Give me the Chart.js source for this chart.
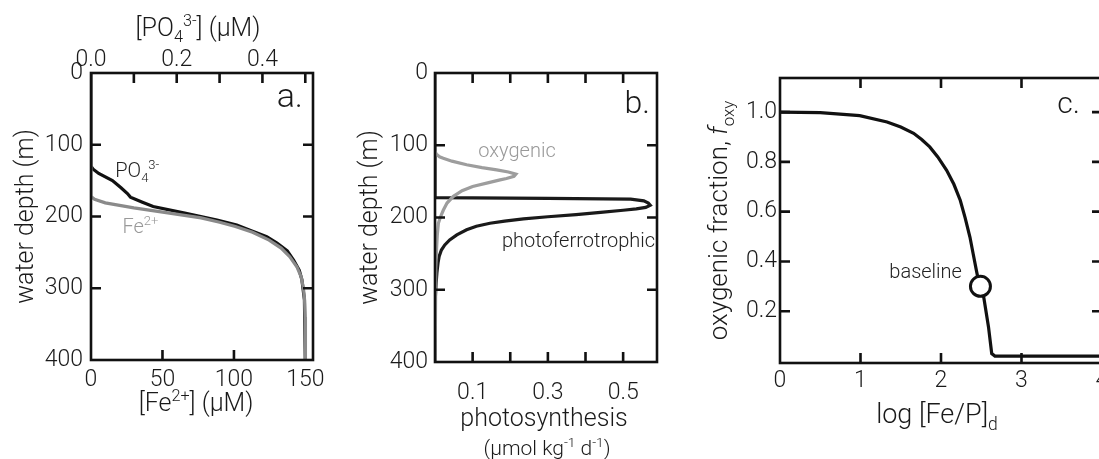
<!DOCTYPE html>
<html>
<head>
<meta charset="utf-8">
<script src="https://cdn.jsdelivr.net/npm/chart.js@4.4.0/dist/chart.umd.min.js"></script>
<style>
  html, body { margin: 0; padding: 0; background: #fff; width: 1099px; height: 459px; overflow: hidden; }
  canvas { position: absolute; top: 0; }
</style>
</head>
<body>
<canvas id="chartA" width="340" height="459" style="left:0"></canvas>
<canvas id="chartB" width="345" height="459" style="left:340px"></canvas>
<canvas id="chartC" width="430" height="459" style="left:685px"></canvas>
<script>
// ---- panel a: dissolved Fe2+ and PO4 profiles
const feDepth = [0, 172, 176, 181, 188, 195, 202, 208, 214, 222, 233, 244, 256, 270, 284, 300, 316, 340, 400];
const feConc  = [0, 0, 2.5, 10, 30, 53.7, 77, 90, 101, 113, 124.6, 133, 139, 144, 147, 148.6, 149.4, 149.8, 150];
const po4Depth = [0, 130, 134, 140, 150, 160, 168, 173, 180, 186, 195, 205, 212, 219, 228, 237, 248, 261, 275, 288, 316, 400];
const po4Conc  = [0, 0, 0.005, 0.018, 0.05, 0.07, 0.085, 0.092, 0.12, 0.145, 0.216, 0.294, 0.34, 0.371, 0.41, 0.434, 0.458, 0.473, 0.486, 0.492, 0.498, 0.5];

// ---- panel b: photosynthesis rates
const oxyDepth = [0, 108, 112, 116, 118, 122, 127, 131, 134, 137, 140, 143, 146, 148, 152, 157, 163, 171, 180, 190, 200, 208, 225, 245, 270, 300, 400];
const oxyRate  = [0, 0, 0.003, 0.012, 0.022, 0.045, 0.084, 0.125, 0.164, 0.195, 0.215, 0.21, 0.19, 0.173, 0.14, 0.10, 0.072, 0.048, 0.032, 0.022, 0.014, 0.009, 0.006, 0.004, 0.002, 0.001, 0];
const ferroDepth = [0, 172.5, 173.5, 174.5, 177, 180, 183, 186, 188, 190, 193, 196, 199, 202, 205, 208, 212, 217, 224, 231, 238, 245, 254, 263, 277, 291, 310, 400];
const ferroRate  = [0, 0, 0.30, 0.52, 0.555, 0.567, 0.572, 0.56, 0.535, 0.50, 0.44, 0.375, 0.30, 0.235, 0.185, 0.146, 0.11, 0.084, 0.058, 0.039, 0.026, 0.017, 0.011, 0.008, 0.005, 0.003, 0.001, 0];

// ---- panel c: oxygenic fraction vs log [Fe/P]d
const logFeP = [0, 0.5, 0.99, 1.33, 1.5, 1.66, 1.76, 1.86, 1.96, 2.07, 2.16, 2.24, 2.30, 2.36, 2.40, 2.44, 2.48, 2.53, 2.59, 2.63, 2.67, 4.0];
const fOxy   = [1.0, 0.998, 0.986, 0.96, 0.94, 0.915, 0.89, 0.86, 0.82, 0.766, 0.71, 0.645, 0.575, 0.497, 0.43, 0.363, 0.30, 0.258, 0.137, 0.03, 0.02, 0.02];
const baselineX = [2.49];
const baselineY = [0.30];

// ---- tick labels and tick marks
const depthTicks = [0, 100, 200, 300, 400];
const feTicks = [0, 50, 100, 150];
const po4Ticks = [0, 0.2, 0.4];
const photoTicks = [0.1, 0.3, 0.5];
const logTicks = [0, 1, 2, 3, 4];
const fTicks = [0.2, 0.4, 0.6, 0.8, 1.0];
const depthMarks = [100, 200, 300];
const feMarks = [50, 100];
const po4Marks = [0.1, 0.2, 0.3, 0.4, 0.5];
const photoMarks = [0.1, 0.2, 0.3, 0.4, 0.5];
const logMarks = [1, 2, 3];
const fMarks = [0.2, 0.4, 0.6, 0.8, 1.0];

const ink = '#111';
const FAMILY = 'Roboto, "Liberation Sans", Helvetica, Arial, sans-serif';
const WEIGHT = 300;
Chart.defaults.font.family = FAMILY;
Chart.defaults.color = '#1a1a1a';

const pts = (xs, ys) => xs.map((x, i) => ({x: x, y: ys[i]}));

function line(data, color, xAxis, width) {
    return {
        data: data, showLine: true, borderColor: color, borderWidth: width || 3.2,
        pointRadius: 0, fill: false, tension: 0, xAxisID: xAxis || 'x', yAxisID: 'y'
    };
}

function axis(pos, min, max, ticks, fmt, pad, size, extra) {
    return Object.assign({
        type: 'linear', position: pos, min: min, max: max,
        grid: {display: false, drawTicks: false},
        border: {display: false},
        afterBuildTicks: s => { s.ticks = ticks.map(v => ({value: v})); },
        afterFit: s => { if (s.isHorizontal()) s.height = size; else s.width = size; },
        ticks: {font: {size: 23, weight: WEIGHT}, color: '#1a1a1a', padding: pad, autoSkip: false, maxRotation: 0, callback: fmt}
    }, extra || {});
}

// text with sub/superscripts; parts = [[text, kind]], kind '', 'sub', 'sup', 'it'
function rich(ctx, parts, x, y, size, align, color, rotate) {
    const fontFor = k => (k === 'it' ? 'italic ' : '') + WEIGHT + ' ' + ((k === 'sub' || k === 'sup') ? size * 0.65 : size) + 'px ' + FAMILY;
    ctx.save();
    ctx.translate(x, y);
    if (rotate) ctx.rotate(rotate);
    let w = 0;
    parts.forEach(p => { ctx.font = fontFor(p[1]); w += ctx.measureText(p[0]).width; });
    let cx = align === 'center' ? -w / 2 : (align === 'right' ? -w : 0);
    ctx.fillStyle = color || '#1a1a1a';
    ctx.textAlign = 'left';
    ctx.textBaseline = 'alphabetic';
    parts.forEach(p => {
        ctx.font = fontFor(p[1]);
        const dy = p[1] === 'sub' ? size * 0.25 : (p[1] === 'sup' ? -size * 0.4 : 0);
        ctx.fillText(p[0], cx, dy);
        cx += ctx.measureText(p[0]).width;
    });
    ctx.restore();
}

// frame box, inward tick marks, titles and labels
function decor(marks, texts) {
    return {
        id: 'decor',
        afterDatasetsDraw(chart) {
            const ctx = chart.ctx, a = chart.chartArea, len = 10;
            ctx.save();
            ctx.strokeStyle = ink;
            ctx.lineWidth = 2.6;
            ctx.strokeRect(a.left, a.top, a.right - a.left, a.bottom - a.top);
            ctx.beginPath();
            marks.forEach(m => {
                const s = chart.scales[m.scale];
                m.values.forEach(v => {
                    const p = s.getPixelForValue(v);
                    m.sides.forEach(side => {
                        if (side === 'left') { ctx.moveTo(a.left, p); ctx.lineTo(a.left + len, p); }
                        if (side === 'right') { ctx.moveTo(a.right, p); ctx.lineTo(a.right - len, p); }
                        if (side === 'top') { ctx.moveTo(p, a.top); ctx.lineTo(p, a.top + len); }
                        if (side === 'bottom') { ctx.moveTo(p, a.bottom); ctx.lineTo(p, a.bottom - len); }
                    });
                });
            });
            ctx.stroke();
            ctx.restore();
        },
        afterDraw(chart) {
            texts.forEach(t => t(chart, chart.ctx, chart.chartArea, chart.scales));
        }
    };
}

const common = {
    responsive: false,
    animation: false,
    events: [],
    plugins: {legend: {display: false}, tooltip: {enabled: false}}
};

// ---------------- panel a
new Chart(document.getElementById('chartA'), {
    type: 'scatter',
    data: {datasets: [
        line(pts(feConc, feDepth), '#8a8a8a', 'x'),
        line(pts(po4Conc, po4Depth), '#111', 'x2')
    ]},
    options: Object.assign({}, common, {
        layout: {padding: {right: 27}},
        scales: {
            x: axis('bottom', 0, 155.3, feTicks, v => String(v), 6, 99),
            x2: axis('top', 0, 0.518, po4Ticks, v => v.toFixed(1), -1, 73),
            y: axis('left', 0, 400, depthTicks, v => String(v), 8, 91, {reverse: true})
        }
    }),
    plugins: [decor([
        {scale: 'y', sides: ['left', 'right'], values: depthMarks},
        {scale: 'x', sides: ['bottom'], values: feMarks},
        {scale: 'x2', sides: ['top'], values: po4Marks}
    ], [
        (c, ctx, a) => rich(ctx, [['[PO', ''], ['4', 'sub'], ['3-', 'sup'], ['] (µM)', '']], 198, 36, 25, 'center'),
        (c, ctx, a) => rich(ctx, [['[Fe', ''], ['2+', 'sup'], ['] (µM)', '']], 196, 411, 25, 'center'),
        (c, ctx, a) => rich(ctx, [['water depth (m)', '']], a.left - 58, (a.top + a.bottom) / 2, 25, 'center', '#1a1a1a', -Math.PI / 2),
        (c, ctx, a) => rich(ctx, [['a.', '']], a.right - 10, a.top + 34, 34, 'right'),
        (c, ctx, a, s) => rich(ctx, [['PO', ''], ['4', 'sub'], ['3-', 'sup']], s.x.getPixelForValue(17), s.y.getPixelForValue(145), 20, 'left', '#222'),
        (c, ctx, a, s) => rich(ctx, [['Fe', ''], ['2+', 'sup']], s.x.getPixelForValue(22), s.y.getPixelForValue(223), 20, 'left', '#999')
    ])]
});

// ---------------- panel b
new Chart(document.getElementById('chartB'), {
    type: 'scatter',
    data: {datasets: [
        line(pts(oxyRate, oxyDepth), '#9d9d9d'),
        line(pts(ferroRate, ferroDepth), '#1a1a1a')
    ]},
    options: Object.assign({}, common, {
        layout: {padding: {right: 28, top: 73}},
        scales: {
            x: axis('bottom', 0, 0.59, photoTicks, v => v.toFixed(1), 17, 97),
            y: axis('left', 0, 400, depthTicks, v => String(v), 7, 95, {reverse: true})
        }
    }),
    plugins: [decor([
        {scale: 'y', sides: ['left', 'right'], values: depthMarks},
        {scale: 'x', sides: ['top', 'bottom'], values: photoMarks}
    ], [
        (c, ctx, a) => rich(ctx, [['water depth (m)', '']], a.left - 58, (a.top + a.bottom) / 2, 25, 'center', '#1a1a1a', -Math.PI / 2),
        (c, ctx, a) => rich(ctx, [['photosynthesis', '']], 204, 426, 25, 'center'),
        (c, ctx, a) => rich(ctx, [['(µmol kg', ''], ['-1', 'sup'], [' d', ''], ['-1', 'sup'], [')', '']], 207, 455, 21, 'center'),
        (c, ctx, a) => rich(ctx, [['b.', '']], a.right - 7, a.top + 40, 32, 'right'),
        (c, ctx, a, s) => rich(ctx, [['oxygenic', '']], s.x.getPixelForValue(0.218), s.y.getPixelForValue(116), 20, 'center', '#999'),
        (c, ctx, a, s) => rich(ctx, [['photoferrotrophic', '']], s.x.getPixelForValue(0.178), s.y.getPixelForValue(241), 20, 'left', '#222')
    ])]
});

// ---------------- panel c
new Chart(document.getElementById('chartC'), {
    type: 'scatter',
    data: {datasets: [
        {
            data: pts(baselineX, baselineY), showLine: false, pointRadius: 10,
            pointBackgroundColor: '#fff', pointBorderColor: '#111', pointBorderWidth: 3, order: 0
        },
        Object.assign(line(pts(logFeP, fOxy), '#111'), {order: 1})
    ]},
    options: Object.assign({}, common, {
        layout: {padding: {right: 13, top: 78}},
        scales: {
            x: axis('bottom', 0, 4, logTicks, v => String(v), 4, 96),
            y: axis('left', -0.008, 1.137, fTicks, v => v.toFixed(1), 3, 95)
        }
    }),
    plugins: [decor([
        {scale: 'y', sides: ['left', 'right'], values: fMarks},
        {scale: 'x', sides: ['top', 'bottom'], values: logMarks}
    ], [
        (c, ctx, a) => rich(ctx, [['oxygenic fraction, ', ''], ['f', 'it'], ['oxy', 'sub']], a.left - 53, (a.top + a.bottom) / 2, 26, 'center', '#1a1a1a', -Math.PI / 2),
        (c, ctx, a) => rich(ctx, [['log [Fe/P]', ''], ['d', 'sub']], 252, 423, 27, 'center'),
        (c, ctx, a) => rich(ctx, [['c.', '']], a.right - 22, a.top + 35, 30, 'right'),
        (c, ctx, a, s) => rich(ctx, [['baseline', '']], s.x.getPixelForValue(2.26), s.y.getPixelForValue(0.333), 20, 'right', '#222')
    ])]
});
</script>
</body>
</html>
